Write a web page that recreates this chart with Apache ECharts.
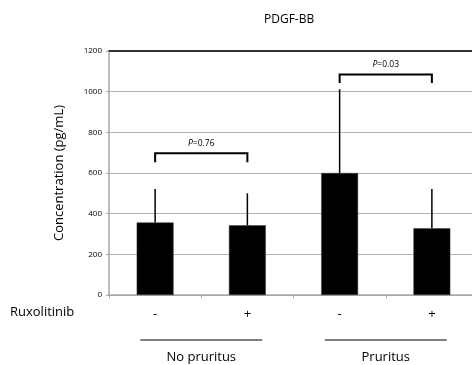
<!DOCTYPE html>
<html>
<head>
<meta charset="utf-8">
<script src="https://cdn.jsdelivr.net/npm/echarts@6/dist/echarts.min.js"></script>
<style>
  html, body { margin: 0; padding: 0; background: #fff; overflow: hidden; }
  #chart { width: 478px; height: 365px; }
</style>
</head>
<body>
<div id="chart"></div>
<script>
// treatment labels along the x axis
const categories = ["-", "+", "-", "+"];
// mean concentration (pg/mL) and upper SD
const means = [357, 343, 600, 328];
const sds = [164, 157, 412, 193];
// y ticks
const yMin = 0, yMax = 1200, yStep = 200;
// significance brackets: category pairs, bracket level, end level, p value
const bracketPairs = [[0, 1], [2, 3]];
const bracketTop = [697, 1085];
const bracketEnd = [653, 1043];
const pValues = ["0.76", "0.03"];
// patient groups under the axis
const groupNames = ["No pruritus", "Pruritus"];
const groupSpans = [[0, 1], [2, 3]];

const FONT = "Open Sans";
const chart = echarts.init(document.getElementById("chart"));

const errorData = means.map((m, i) => [i, m, m + sds[i]]);
const bracketData = bracketPairs.map((p, i) => [p[0], p[1], bracketTop[i], bracketEnd[i], pValues[i]]);
const groupData = groupSpans.map((s, i) => [s[0], s[1], groupNames[i]]);

const option = {
  animation: false,
  title: {
    text: "PDGF-BB",
    left: 259,
    top: 9,
    textStyle: { fontFamily: FONT, fontSize: 12, fontWeight: "normal", color: "#000" }
  },
  grid: { left: 109, right: 0, top: 51, bottom: 70 },
  xAxis: [
    {
      type: "category",
      data: categories,
      axisLine: { lineStyle: { color: "#a6a6a6", width: 1.5 } },
      axisTick: { show: true, length: 3, lineStyle: { color: "#a6a6a6" } },
      axisLabel: { color: "#000", fontFamily: FONT, fontSize: 13, margin: 13 }
    },
    {
      type: "category",
      position: "top",
      data: categories,
      axisLine: { lineStyle: { color: "#333", width: 2 } },
      axisTick: { show: false },
      axisLabel: { show: false }
    }
  ],
  yAxis: {
    type: "value",
    min: yMin,
    max: yMax,
    interval: yStep,
    name: "Concentration (pg/mL)",
    nameLocation: "middle",
    nameGap: 43,
    nameTextStyle: { fontFamily: FONT, fontSize: 13, color: "#000" },
    axisLine: { show: true, lineStyle: { color: "#a6a6a6", width: 1.5 } },
    axisTick: { show: true, length: 3, lineStyle: { color: "#a6a6a6" } },
    axisLabel: { fontFamily: FONT, fontSize: 8, color: "#000", margin: 7, formatter: v => String(v) },
    splitLine: { lineStyle: { color: "#b3b3b3", width: 1 } }
  },
  graphic: [
    {
      type: "text",
      left: 10,
      top: 306,
      style: { text: "Ruxolitinib", fontFamily: FONT, fontSize: 13, fill: "#000" }
    }
  ],
  series: [
    {
      type: "bar",
      data: means,
      barWidth: "40%",
      itemStyle: { color: "#000", borderColor: "#404040", borderWidth: 0.5 }
    },
    {
      type: "custom",
      data: errorData,
      z: 3,
      renderItem: (params, api) => {
        const a = api.coord([api.value(0), api.value(1)]);
        const b = api.coord([api.value(0), api.value(2)]);
        return {
          type: "line",
          shape: { x1: a[0], y1: a[1], x2: b[0], y2: b[1] },
          style: { stroke: "#000", lineWidth: 1.5 }
        };
      }
    },
    {
      type: "custom",
      data: bracketData,
      z: 4,
      renderItem: (params, api) => {
        const l = api.coord([api.value(0), api.value(2)]);
        const r = api.coord([api.value(1), api.value(2)]);
        const e = api.coord([api.value(0), api.value(3)]);
        const p = bracketData[params.dataIndex][4];
        return {
          type: "group",
          children: [
            {
              type: "polyline",
              shape: { points: [[l[0], e[1]], l, r, [r[0], e[1]]] },
              style: { stroke: "#000", lineWidth: 2, fill: null }
            },
            {
              type: "text",
              x: (l[0] + r[0]) / 2,
              y: l[1] - 5,
              style: {
                text: "{i|P}=" + p,
                rich: { i: { fontStyle: "italic", fontFamily: FONT, fontSize: 8.5 } },
                fontFamily: FONT,
                fontSize: 8.5,
                fill: "#000",
                align: "center",
                verticalAlign: "bottom"
              }
            }
          ]
        };
      }
    },
    {
      type: "custom",
      data: groupData,
      clip: false,
      renderItem: (params, api) => {
        const a = api.coord([api.value(0), 0]);
        const b = api.coord([api.value(1), 0]);
        const cx = (a[0] + b[0]) / 2;
        const name = groupData[params.dataIndex][2];
        return {
          type: "group",
          children: [
            {
              type: "line",
              shape: { x1: cx - 61, y1: a[1] + 45, x2: cx + 61, y2: a[1] + 45 },
              style: { stroke: "#000", lineWidth: 1.2 }
            },
            {
              type: "text",
              x: cx,
              y: a[1] + 62,
              style: {
                text: name,
                fontFamily: FONT,
                fontSize: 13,
                fill: "#000",
                align: "center",
                verticalAlign: "middle"
              }
            }
          ]
        };
      }
    }
  ]
};

chart.setOption(option);
</script>
</body>
</html>
